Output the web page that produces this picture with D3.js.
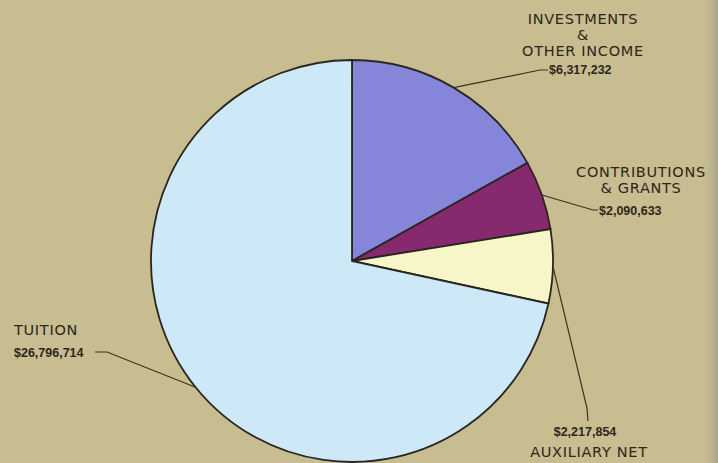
<!DOCTYPE html>
<html>
<head>
<meta charset="utf-8">
<script src="https://cdn.jsdelivr.net/npm/d3@7"></script>
<style>
    body { margin: 0; padding: 0; overflow: hidden; background: #c8bc91; }
    .slice { stroke: #2a261e; stroke-width: 1.8; }
    .leader { fill: none; stroke: #3a3320; stroke-width: 1.2; }
    .catLabel { font-family: "DejaVu Sans", Verdana, sans-serif; font-size: 14.5px; letter-spacing: 0.7px; fill: #2b2719; }
    .valLabel { font-family: "Liberation Sans", Arial, sans-serif; font-size: 12.5px; font-weight: bold; fill: #2b2719; }
</style>
</head>
<body>
<script>
(function(){
    //chart data
    var categories = ["INVESTMENTS & OTHER INCOME", "CONTRIBUTIONS & GRANTS", "AUXILIARY NET", "TUITION"];
    var values = [6317232, 2090633, 2217854, 26796714];
    var valueLabels = ["$6,317,232", "$2,090,633", "$2,217,854", "$26,796,714"];
    var colors = ["#8585da", "#87296f", "#f7f6c8", "#cde8f6"];

    //layout for each label: category text lines, value position, leader elbow
    var labelLayout = [
        {lines: ["INVESTMENTS", "&", "OTHER INCOME"], lx: 583, ly: 24, lstep: 16, anchor: "middle",
         vx: 549, vy: 74, vanchor: "start", elbow: [[540, 70], [548, 70]]},
        {lines: ["CONTRIBUTIONS", "& GRANTS"], lx: 641, ly: 177, lstep: 16, anchor: "middle",
         vx: 599, vy: 215, vanchor: "start", elbow: [[593, 210], [598, 210]]},
        {lines: ["AUXILIARY NET"], lx: 589, ly: 457, lstep: 16, anchor: "middle",
         vx: 585, vy: 436, vanchor: "middle", elbow: [[587, 408], [588, 421]]},
        {lines: ["TUITION"], lx: 14, ly: 335, lstep: 16, anchor: "start",
         vx: 14, vy: 357, vanchor: "start", elbow: [[107, 352], [95, 352]]}
    ];

    window.onload = setChart();

    function setChart(){
        var width = 718,
            height = 463,
            cx = 352,
            cy = 261,
            radius = 201;

        var svg = d3.select("body")
            .append("svg")
            .attr("width", width)
            .attr("height", height);

        //background and darker page edge at right
        var grad = svg.append("defs").append("linearGradient")
            .attr("id", "edge")
            .attr("x1", 0).attr("x2", 1).attr("y1", 0).attr("y2", 0);
        grad.append("stop").attr("offset", "0%").attr("stop-color", "#c8bc91").attr("stop-opacity", 0);
        grad.append("stop").attr("offset", "100%").attr("stop-color", "#a9a48a").attr("stop-opacity", 1);

        svg.append("rect")
            .attr("width", width)
            .attr("height", height)
            .attr("fill", "#c8bc91");
        svg.append("rect")
            .attr("x", 700)
            .attr("width", 18)
            .attr("height", height)
            .attr("fill", "url(#edge)");

        var data = categories.map(function(c, i){
            return {name: c, value: values[i], label: valueLabels[i], color: colors[i], layout: labelLayout[i]};
        });

        var pie = d3.pie()
            .sort(null)
            .value(function(d){ return d.value; });

        var arc = d3.arc()
            .innerRadius(0)
            .outerRadius(radius);

        var arcs = pie(data);

        var g = svg.append("g")
            .attr("transform", "translate(" + cx + "," + cy + ")");

        g.selectAll(".slice")
            .data(arcs)
            .enter()
            .append("path")
            .attr("class", "slice")
            .attr("d", arc)
            .style("fill", function(d){ return d.data.color; });

        //leader lines from the middle of each slice edge
        svg.selectAll(".leader")
            .data(arcs)
            .enter()
            .append("path")
            .attr("class", "leader")
            .attr("d", function(d){
                var a = (d.startAngle + d.endAngle) / 2;
                var pts = [[cx + radius * Math.sin(a), cy - radius * Math.cos(a)]]
                    .concat(d.data.layout.elbow);
                return d3.line()(pts);
            });

        //category labels, one text per line
        data.forEach(function(d){
            var L = d.layout;
            L.lines.forEach(function(line, j){
                svg.append("text")
                    .attr("class", "catLabel")
                    .attr("text-anchor", L.anchor)
                    .attr("x", L.lx)
                    .attr("y", L.ly + j * L.lstep)
                    .text(line);
            });
            svg.append("text")
                .attr("class", "valLabel")
                .attr("x", L.vx)
                .attr("y", L.vy)
                .attr("text-anchor", L.vanchor)
                .text(d.label);
        });
    }
})();
</script>
</body>
</html>
